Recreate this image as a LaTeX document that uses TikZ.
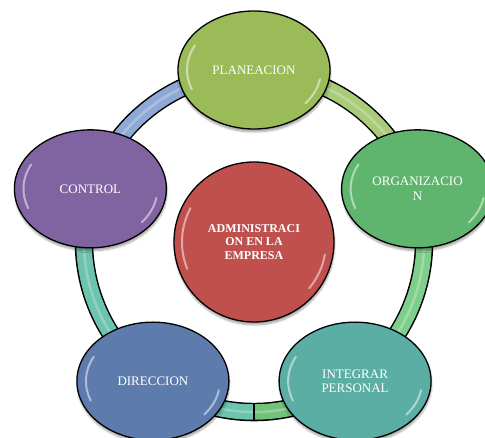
\documentclass[tikz,border=0pt]{standalone}
\usepackage{fontspec}
\setmainfont{Liberation Serif}
\usetikzlibrary{shapes.geometric,calc,shadows.blur}
\definecolor{cplan}{HTML}{9BBB59}
\definecolor{corg}{HTML}{5FB56D}
\definecolor{cint}{HTML}{5AAEA3}
\definecolor{cdir}{HTML}{5E7BAD}
\definecolor{cctrl}{HTML}{8064A2}
\definecolor{ccen}{HTML}{C0504D}
\definecolor{ringblue}{HTML}{8EA9D6}
\definecolor{ringlg}{HTML}{A9CB7A}
\definecolor{ringg}{HTML}{7FCF8C}
\definecolor{ringgg}{HTML}{72C27A}
\definecolor{ringteal}{HTML}{6CC4AE}
\pgfdeclarelayer{bg}
\pgfsetlayers{bg,main}
\newcommand{\gleam}[3]{%
  \draw[gleamline] ($(#1.center)+(152:#2 and #3)$) arc[start angle=152,end angle=202,x radius=#2,y radius=#3];
  \draw[gleamline] ($(#1.center)+(-10:#2 and #3)$) arc[start angle=-10,end angle=-40,x radius=#2,y radius=#3];
}
\begin{document}
\begin{tikzpicture}[x=1pt,y=1pt,
  bubble/.style={ellipse,draw=black,line width=1.3pt,minimum width=152pt,minimum height=118pt,inner sep=0pt,
    text=white,align=center,font=\fontsize{13}{14.5}\selectfont,
    blur shadow={shadow blur steps=6,shadow xshift=0.5pt,shadow yshift=-3pt,shadow opacity=35}},
  gleamline/.style={white,opacity=0.5,line width=2pt,line cap=round},
  ringout/.style={line width=18.5pt,black},
  ringin/.style={line width=15.5pt},
  ringshine/.style={line width=2.5pt,white,opacity=0.25}]
\useasboundingbox (0,0) rectangle (485,438);
\coordinate (O) at (254,196);
\node[bubble,fill=cplan] (plan) at ($(O)+(90:172pt)$) {PLANEACION};
\node[bubble,fill=corg] (org) at ($(O)+(18:172pt)$) {ORGANIZACIO\\N};
\node[bubble,fill=cint] (int) at ($(O)+(-54:172pt)$) {INTEGRAR\\PERSONAL};
\node[bubble,fill=cdir] (dir) at ($(O)+(-126:172pt)$) {DIRECCION};
\node[bubble,fill=cctrl] (ctrl) at ($(O)+(162:172pt)$) {CONTROL};
\node[circle,draw=black,line width=1.3pt,minimum size=160pt,inner sep=0pt,fill=ccen,text=white,align=center,
  font=\bfseries\fontsize{12}{13.8}\selectfont,
  blur shadow={shadow blur steps=6,shadow xshift=0.5pt,shadow yshift=-3pt,shadow opacity=35}] (cen) at (O)
  {ADMINISTRACI\\ON EN LA\\EMPRESA};
\coordinate (rplan) at ($(O)+(90:170pt)$);
\coordinate (rorg) at ($(O)+(18:170pt)$);
\coordinate (rint) at ($(O)+(-54:170pt)$);
\coordinate (rbot) at ($(O)+(-90:170pt)$);
\coordinate (rdir) at ($(O)+(-126:170pt)$);
\coordinate (rctrl) at ($(O)+(162:170pt)$);
\gleam{plan}{67pt}{52pt}
\gleam{org}{67pt}{52pt}
\gleam{int}{67pt}{52pt}
\gleam{dir}{67pt}{52pt}
\gleam{ctrl}{67pt}{52pt}
\gleam{cen}{72pt}{72pt}
\begin{pgfonlayer}{bg}
  \draw[ringout] (rctrl) arc[start angle=162,end angle=-198,radius=170pt];
  \draw[ringin,ringblue] (rctrl) arc[start angle=162,end angle=90,radius=170pt];
  \draw[ringin,ringlg] (rplan) arc[start angle=90,end angle=18,radius=170pt];
  \draw[ringin,ringg] (rorg) arc[start angle=18,end angle=-54,radius=170pt];
  \draw[ringin,ringgg] (rint) arc[start angle=-54,end angle=-90,radius=170pt];
  \draw[ringin,ringteal] (rbot) arc[start angle=-90,end angle=-126,radius=170pt];
  \draw[ringin,ringteal] (rdir) arc[start angle=-126,end angle=-198,radius=170pt];
  \draw[ringshine] (rctrl) arc[start angle=162,end angle=-198,radius=170pt];
  \draw[line width=1.2pt] ($(rbot)+(0,9.2pt)$) -- ($(rbot)+(0,-9.2pt)$);
\end{pgfonlayer}
\end{tikzpicture}
\end{document}
